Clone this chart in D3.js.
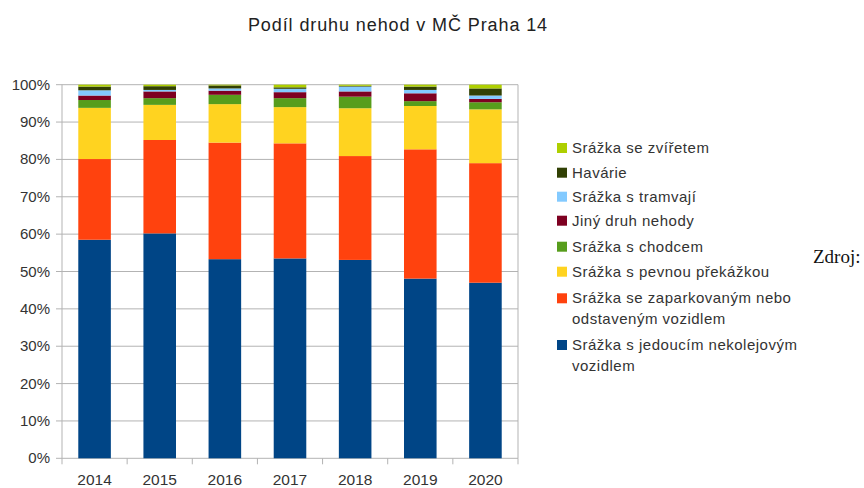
<!DOCTYPE html>
<html>
<head>
<meta charset="utf-8">
<script src="https://cdn.jsdelivr.net/npm/d3@7"></script>
<style>
  body { margin: 0; background: #fff; }
  svg { display: block; font-family: "Liberation Sans", Arial, sans-serif; }
</style>
</head>
<body>
<svg id="chart" width="864" height="488"></svg>
<script>
// Data (percent of all accidents per year)
const years = ["2014", "2015", "2016", "2017", "2018", "2019", "2020"];
const seriesNames = [
    "Srážka s jedoucím nekolejovým vozidlem",
    "Srážka se zaparkovaným nebo odstaveným vozidlem",
    "Srážka s pevnou překážkou",
    "Srážka s chodcem",
    "Jiný druh nehody",
    "Srážka s tramvají",
    "Havárie",
    "Srážka se zvířetem"
];
const jedouci   = [58.5, 60.2, 53.3, 53.5, 53.1, 48.1, 47.0];
const zaparkovane = [21.6, 25.0, 31.2, 30.8, 27.8, 34.6, 32.0];
const prekazka  = [13.7, 9.4, 10.3, 9.7, 12.8, 11.6, 14.4];
const chodec    = [2.1, 1.8, 2.5, 2.4, 3.1, 1.3, 1.9];
const jiny      = [1.2, 1.8, 1.1, 1.6, 1.4, 2.1, 0.9];
const tramvaj   = [1.4, 0.4, 0.6, 0.9, 1.3, 0.9, 0.9];
const havarie   = [1.0, 1.0, 0.8, 0.4, 0.2, 0.9, 1.9];
const zvire     = [0.5, 0.4, 0.2, 0.7, 0.3, 0.5, 1.0];
const yTicks = [0, 10, 20, 30, 40, 50, 60, 70, 80, 90, 100];

const seriesValues = [jedouci, zaparkovane, prekazka, chodec, jiny, tramvaj, havarie, zvire];
// LibreOffice default palette
const colors = ["#004586", "#ff420e", "#ffd320", "#579d1c", "#7e0021", "#83caff", "#314004", "#aecf00"];
// legend is drawn top-down in reverse order, long names wrapped like the original
const legendLines = [
    ["Srážka se zvířetem"],
    ["Havárie"],
    ["Srážka s tramvají"],
    ["Jiný druh nehody"],
    ["Srážka s chodcem"],
    ["Srážka s pevnou překážkou"],
    ["Srážka se zaparkovaným nebo", "odstaveným vozidlem"],
    ["Srážka s jedoucím nekolejovým", "vozidlem"]
];

const svg = d3.select("#chart");

// build rows for the stack
const rows = years.map((y, i) => {
    let row = { year: y };
    seriesNames.forEach((s, k) => row[s] = seriesValues[k][i]);
    return row;
});
const stacked = d3.stack().keys(seriesNames)(rows);

const plotLeft = 62, plotRight = 518, plotTop = 84.7, plotBottom = 458.3;

const x = d3.scaleBand().domain(years).range([plotLeft, plotRight])
    .paddingInner(0.5).paddingOuter(0.25);
const y = d3.scaleLinear().domain([0, 100]).range([plotBottom, plotTop]);

// title
svg.append("text")
    .attr("x", 398).attr("y", 31)
    .attr("text-anchor", "middle")
    .attr("font-size", 18)
    .attr("letter-spacing", 0.9)
    .attr("fill", "#222")
    .text("Podíl druhu nehod v MČ Praha 14");

// horizontal grid
svg.append("g")
    .selectAll("line")
    .data(yTicks)
    .join("line")
    .attr("x1", plotLeft - 6).attr("x2", plotRight)
    .attr("y1", d => y(d)).attr("y2", d => y(d))
    .attr("stroke", "#b3b3b3").attr("stroke-width", 1);

// frame: left axis and right border
svg.append("line")
    .attr("x1", plotLeft).attr("x2", plotLeft)
    .attr("y1", plotTop).attr("y2", plotBottom)
    .attr("stroke", "#b3b3b3");
svg.append("line")
    .attr("x1", plotRight).attr("x2", plotRight)
    .attr("y1", plotTop).attr("y2", plotBottom)
    .attr("stroke", "#b3b3b3");

// x tick marks at category boundaries
const step = x.step();
const boundaries = d3.range(years.length + 1).map(i => plotLeft + i * step);
svg.append("g")
    .selectAll("line")
    .data(boundaries)
    .join("line")
    .attr("x1", d => d).attr("x2", d => d)
    .attr("y1", plotBottom).attr("y2", plotBottom + 6)
    .attr("stroke", "#b3b3b3");

// y labels
svg.append("g")
    .selectAll("text")
    .data(yTicks)
    .join("text")
    .attr("x", 50).attr("y", d => y(d) + 5)
    .attr("text-anchor", "end")
    .attr("font-size", 15)
    .attr("fill", "#333")
    .text(d => d + "%");

// x labels
svg.append("g")
    .selectAll("text")
    .data(years)
    .join("text")
    .attr("x", d => x(d) + x.bandwidth() / 2)
    .attr("y", 485)
    .attr("text-anchor", "middle")
    .attr("font-size", 15.5)
    .attr("fill", "#333")
    .text(d => d);

// bars
svg.append("g")
    .selectAll("g")
    .data(stacked)
    .join("g")
    .attr("fill", (d, i) => colors[i])
    .selectAll("rect")
    .data(d => d)
    .join("rect")
    .attr("x", d => x(d.data.year))
    .attr("y", d => y(d[1]))
    .attr("width", x.bandwidth())
    .attr("height", d => y(d[0]) - y(d[1]));

// legend
const legendRowY = [148, 172.7, 196.7, 220.7, 246.7, 271.7, 298.3, 345];
const legend = svg.append("g");
legendLines.forEach((lines, i) => {
    const colorIdx = colors.length - 1 - i;
    const cy = legendRowY[i];
    legend.append("rect")
        .attr("x", 557).attr("y", cy - 5)
        .attr("width", 10).attr("height", 10)
        .attr("fill", colors[colorIdx]);
    lines.forEach((t, j) => {
        legend.append("text")
            .attr("x", 572).attr("y", cy + 5 + j * 20.5)
            .attr("font-size", 15)
            .attr("letter-spacing", 0.5)
            .attr("fill", "#333")
            .text(t);
    });
});

// stray source label from the page
svg.append("text")
    .attr("x", 813).attr("y", 263)
    .style("font-family", "'Liberation Serif', 'Times New Roman', serif")
    .attr("font-size", 19)
    .attr("fill", "#111")
    .text("Zdroj:");
</script>
</body>
</html>
